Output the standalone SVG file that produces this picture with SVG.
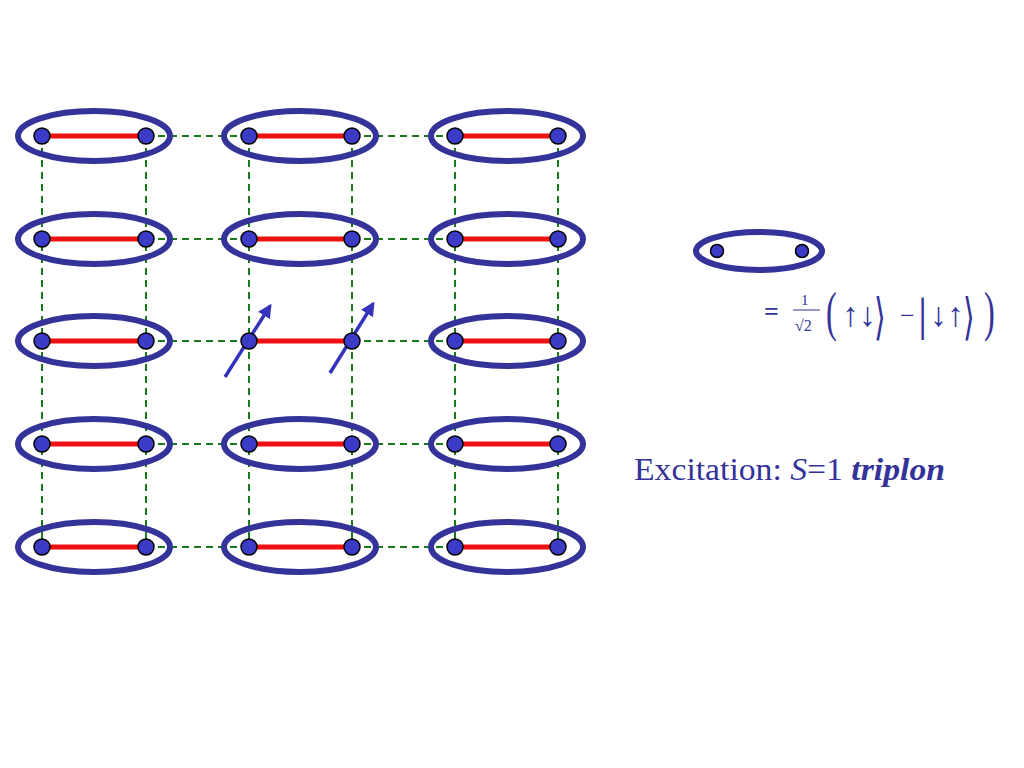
<svg xmlns="http://www.w3.org/2000/svg" width="1024" height="768" viewBox="0 0 1024 768">
<style>
.d{stroke:#1a7a1a;stroke-width:2;stroke-dasharray:7,5;fill:none}
.b{stroke:#ee1111;stroke-width:5}
.e{fill:none;stroke:#333399;stroke-width:6}
.s{fill:#3b3bc8;stroke:#000;stroke-width:1.5}
.t{font-family:"Liberation Serif",serif;fill:#333399}
.a{stroke:#3333bb;stroke-width:3.5}
</style>
<defs><marker id="ah" viewBox="0 0 10 10" refX="8" refY="5" markerWidth="4" markerHeight="4" orient="auto"><path d="M0,0L10,5L0,10z" fill="#3333bb"/></marker></defs>
<rect width="1024" height="768" fill="#fff"/>
<g id="connectors">
<path class="d" d="M42,136V547M146,136V547M249,136V547M352,136V547M455,136V547M558,136V547"/>
<path class="d" d="M146,136H249M352,136H455M146,239H249M352,239H455M146,341H249M352,341H455M146,444H249M352,444H455M146,547H249M352,547H455"/>
<path class="b" d="M42,136H146M249,136H352M455,136H558M42,239H146M249,239H352M455,239H558M42,341H146M249,341H352M455,341H558M42,444H146M249,444H352M455,444H558M42,547H146M249,547H352M455,547H558"/>
<path class="a" d="M225,377L270,306" marker-end="url(#ah)"/>
<path class="a" d="M330,373L373,304" marker-end="url(#ah)"/>
</g>
<g id="dimers">
<ellipse class="e" cx="94" cy="136" rx="76" ry="25"/><ellipse class="e" cx="300" cy="136" rx="76" ry="25"/><ellipse class="e" cx="507" cy="136" rx="76" ry="25"/>
<ellipse class="e" cx="94" cy="239" rx="76" ry="25"/><ellipse class="e" cx="300" cy="239" rx="76" ry="25"/><ellipse class="e" cx="507" cy="239" rx="76" ry="25"/>
<ellipse class="e" cx="94" cy="341" rx="76" ry="25"/><ellipse class="e" cx="507" cy="341" rx="76" ry="25"/>
<ellipse class="e" cx="94" cy="444" rx="76" ry="25"/><ellipse class="e" cx="300" cy="444" rx="76" ry="25"/><ellipse class="e" cx="507" cy="444" rx="76" ry="25"/>
<ellipse class="e" cx="94" cy="547" rx="76" ry="25"/><ellipse class="e" cx="300" cy="547" rx="76" ry="25"/><ellipse class="e" cx="507" cy="547" rx="76" ry="25"/>
</g>
<g id="sites">
<g class="s">
<circle cx="42" cy="136" r="8"/><circle cx="146" cy="136" r="8"/><circle cx="249" cy="136" r="8"/><circle cx="352" cy="136" r="8"/><circle cx="455" cy="136" r="8"/><circle cx="558" cy="136" r="8"/>
<circle cx="42" cy="239" r="8"/><circle cx="146" cy="239" r="8"/><circle cx="249" cy="239" r="8"/><circle cx="352" cy="239" r="8"/><circle cx="455" cy="239" r="8"/><circle cx="558" cy="239" r="8"/>
<circle cx="42" cy="341" r="8"/><circle cx="146" cy="341" r="8"/><circle cx="249" cy="341" r="8"/><circle cx="352" cy="341" r="8"/><circle cx="455" cy="341" r="8"/><circle cx="558" cy="341" r="8"/>
<circle cx="42" cy="444" r="8"/><circle cx="146" cy="444" r="8"/><circle cx="249" cy="444" r="8"/><circle cx="352" cy="444" r="8"/><circle cx="455" cy="444" r="8"/><circle cx="558" cy="444" r="8"/>
<circle cx="42" cy="547" r="8"/><circle cx="146" cy="547" r="8"/><circle cx="249" cy="547" r="8"/><circle cx="352" cy="547" r="8"/><circle cx="455" cy="547" r="8"/><circle cx="558" cy="547" r="8"/>
</g>
</g>
<g id="legend">
<ellipse class="e" cx="759" cy="251" rx="63" ry="19"/>
<circle class="s" cx="717" cy="251" r="6.5"/><circle class="s" cx="802" cy="251" r="6.5"/>
<text class="t" x="764" y="320" font-size="26" font-family="Liberation Sans,sans-serif" font-weight="bold">=</text>
<text class="t" x="801" y="305" font-size="15">1</text>
<line x1="793" y1="310" x2="820" y2="310" stroke="#333399" stroke-width="1"/>
<text class="t" x="795" y="331" font-size="16">√2</text>
<text class="t" x="826" y="330" font-size="54" transform="translate(826,0) scale(0.6,1) translate(-826,0)">(</text>
<text class="t" x="842" y="326" font-size="34">↑↓</text>
<text class="t" x="874" y="334" font-size="50" transform="translate(874,0) scale(0.6,1) translate(-874,0)">⟩</text>
<text class="t" x="900" y="324" font-size="26">−</text>
<text class="t" x="918" y="330" font-size="46">|</text>
<text class="t" x="930" y="326" font-size="34">↓↑</text>
<text class="t" x="963" y="334" font-size="50" transform="translate(963,0) scale(0.6,1) translate(-963,0)">⟩</text>
<text class="t" x="984" y="330" font-size="54" transform="translate(984,0) scale(0.6,1) translate(-984,0)">)</text>
<text class="t" x="634" y="480" font-size="31" textLength="311" lengthAdjust="spacingAndGlyphs">Excitation: <tspan font-style="italic">S</tspan>=1 <tspan font-style="italic" font-weight="bold">triplon</tspan></text>
</g>
</svg>
